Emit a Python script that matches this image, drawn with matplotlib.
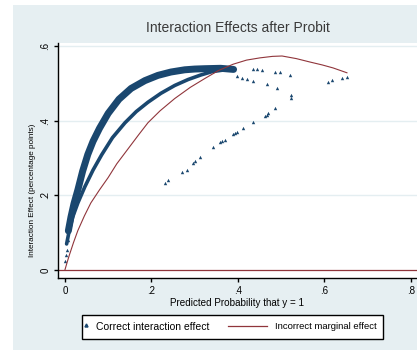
import matplotlib
matplotlib.use('Agg')
import matplotlib.pyplot as plt
from matplotlib.patches import Rectangle
from matplotlib.lines import Line2D

plt.rcParams['font.family'] = ['Liberation Sans', 'DejaVu Sans']

NAVY = '#1a476f'
MAROON = '#90353b'
PANEL = '#e6eff2'

# upper (dense) band of correct interaction effects
upper_x = [0.008, 0.014, 0.021, 0.030, 0.041, 0.053, 0.065, 0.080, 0.100, 0.125,
           0.153, 0.185, 0.215, 0.245, 0.277, 0.300, 0.324, 0.360, 0.390]
upper_y = [0.105, 0.142, 0.178, 0.215, 0.265, 0.310, 0.345, 0.380, 0.420, 0.458,
           0.487, 0.508, 0.522, 0.531, 0.537, 0.539, 0.540, 0.541, 0.538]

# middle band of correct interaction effects
middle_x = [0.004, 0.010, 0.018, 0.030, 0.046, 0.065, 0.085, 0.110, 0.139, 0.165,
            0.192, 0.222, 0.254, 0.285, 0.314, 0.340, 0.370]
middle_y = [0.070, 0.105, 0.142, 0.180, 0.223, 0.268, 0.309, 0.355, 0.395, 0.425,
            0.450, 0.474, 0.495, 0.511, 0.523, 0.532, 0.537]

# scattered correct interaction effects
scatter_x = [0.001, 0.003, 0.005, 0.007,
             0.231, 0.238, 0.270, 0.282, 0.296, 0.300, 0.312,
             0.342, 0.358, 0.363, 0.370, 0.389, 0.393, 0.397, 0.412, 0.435,
             0.462, 0.467, 0.470, 0.486,
             0.398, 0.410, 0.420, 0.435,
             0.435, 0.444, 0.455, 0.486, 0.497, 0.520,
             0.467, 0.490, 0.522, 0.522,
             0.608, 0.617, 0.640, 0.652]
scatter_y = [0.025, 0.040, 0.055, 0.080,
             0.233, 0.242, 0.263, 0.268, 0.287, 0.293, 0.303,
             0.330, 0.344, 0.346, 0.349, 0.365, 0.367, 0.370, 0.381, 0.397,
             0.413, 0.416, 0.421, 0.435,
             0.520, 0.515, 0.512, 0.508,
             0.540, 0.540, 0.537, 0.532, 0.532, 0.523,
             0.499, 0.489, 0.470, 0.462,
             0.505, 0.510, 0.515, 0.518]

# incorrect marginal effect
marg_x = [0.000, 0.005, 0.010, 0.020, 0.030, 0.045, 0.060, 0.080, 0.100, 0.120,
          0.146, 0.170, 0.192, 0.220, 0.254, 0.290, 0.324, 0.355, 0.389, 0.420,
          0.451, 0.480, 0.502, 0.535, 0.566, 0.595, 0.620, 0.652]
marg_y = [0.000, 0.020, 0.039, 0.074, 0.106, 0.145, 0.180, 0.215, 0.248, 0.285,
          0.325, 0.362, 0.395, 0.427, 0.460, 0.490, 0.514, 0.535, 0.552, 0.563,
          0.569, 0.573, 0.574, 0.567, 0.558, 0.550, 0.542, 0.529]

fig = plt.figure(figsize=(4.17, 3.52), dpi=100)
fig.patch.set_facecolor('white')
fig.patches.append(Rectangle((0.031, 0.006), 1.0, 0.980, transform=fig.transFigure,
                             facecolor=PANEL, edgecolor='none', zorder=-1))

ax = fig.add_axes([0.139, 0.210, 0.916, 0.668])
ax.set_zorder(2)
ax.set_facecolor('white')
ax.set_xlim(-0.016, 0.867)
ax.set_ylim(-0.0215, 0.609)

for v in [0.2, 0.4, 0.6]:
    ax.axhline(v, color='#e4eef1', lw=1.0, zorder=1)
ax.axhline(0, color=MAROON, lw=0.9, zorder=2)

ax.plot(upper_x, upper_y, color=NAVY, lw=5.0, solid_capstyle='round',
        solid_joinstyle='round', zorder=3)
ax.plot(middle_x, middle_y, color=NAVY, lw=2.6, solid_capstyle='round',
        solid_joinstyle='round', zorder=3)
ax.scatter(scatter_x, scatter_y, marker='^', s=6, color=NAVY, linewidths=0, zorder=3)
ax.plot(marg_x, marg_y, color=MAROON, lw=0.8, zorder=4)

for side in ['top', 'right']:
    ax.spines[side].set_visible(False)
for side in ['left', 'bottom']:
    ax.spines[side].set_linewidth(1.0)

ax.set_xticks([0, 0.2, 0.4, 0.6, 0.8])
ax.set_xticklabels(['0', '.2', '.4', '.6', '.8'])
ax.set_yticks([0, 0.2, 0.4, 0.6])
ax.set_yticklabels(['0', '.2', '.4', '.6'], rotation=90, va='center')
ax.tick_params(axis='both', length=3, width=1, labelsize=7, colors='black')
ax.tick_params(axis='x', pad=3)
ax.tick_params(axis='y', pad=2.5)

fig.text(0.571, 0.920, 'Interaction Effects after Probit', ha='center', va='center',
         fontsize=10, color='#3a3a3a')
fig.text(0.568, 0.139, 'Predicted Probability that y = 1', ha='center', va='center',
         fontsize=7.1)
fig.text(0.079, 0.460, 'Interaction Effect (percentage points)', ha='center', va='center',
         rotation=90, fontsize=5.9)

# legend box
fig.patches.append(Rectangle((82 / 417, 13 / 352), 301 / 417, 24 / 352, transform=fig.transFigure,
                             facecolor='white', edgecolor='black', lw=1.0, zorder=5))
fig.lines.append(Line2D([86 / 417], [27 / 352], marker='^', markersize=2.2, color=NAVY,
                        lw=0, transform=fig.transFigure, zorder=6))
fig.text(96 / 417, 25.5 / 352, 'Correct interaction effect', ha='left', va='center',
         fontsize=7.5, zorder=6)
fig.lines.append(Line2D([228 / 417, 267 / 417], [26 / 352, 26 / 352], color=MAROON, lw=0.9,
                        transform=fig.transFigure, zorder=6))
fig.text(275 / 417, 25.5 / 352, 'Incorrect marginal effect', ha='left', va='center',
         fontsize=6.8, zorder=6)

fig.savefig('out.png', dpi=100)
